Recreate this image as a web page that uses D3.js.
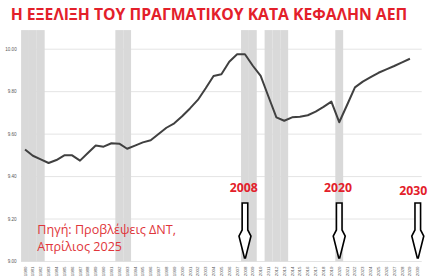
<!DOCTYPE html>
<html>
<head>
<meta charset="utf-8">
<script src="https://cdn.jsdelivr.net/npm/d3@7"></script>
<style>
  body { margin: 0; background: #fff; }
  svg { display: block; }
</style>
</head>
<body>
<div id="chart"></div>
<script>
// years on the category axis
const years = d3.range(1980, 2031);

// log real GDP per capita, 1980-2029 (IMF forecasts after 2024)
const gdpYears = d3.range(1980, 2030);
const gdpValues = [
  9.528, 9.498, 9.481, 9.464, 9.478, 9.500, 9.500, 9.475, 9.511, 9.546,
  9.541, 9.557, 9.555, 9.531, 9.546, 9.561, 9.571, 9.601, 9.630, 9.651,
  9.684, 9.721, 9.761, 9.816, 9.874, 9.882, 9.941, 9.976, 9.976, 9.922,
  9.874, 9.776, 9.679, 9.663, 9.679, 9.682, 9.689, 9.706, 9.728, 9.753,
  9.656, 9.737, 9.820, 9.847, 9.868, 9.889, 9.905, 9.921, 9.938, 9.955
];

// recession years (grey bars)
const recessionYears = [1980, 1981, 1982, 1992, 1993, 2008, 2009, 2011, 2012, 2013, 2020];
const recessionTop = 10.09;

const yTicks = [9.0, 9.2, 9.4, 9.6, 9.8, 10.0];
const markerYears = [2008, 2020, 2030];

const title = "Η ΕΞΕΛΙΞΗ ΤΟΥ ΠΡΑΓΜΑΤΙΚΟΥ ΚΑΤΑ ΚΕΦΑΛΗΝ ΑΕΠ";
const sourceLines = ["Πηγή: Προβλέψεις ΔΝΤ,", "Απρίλιος 2025"];

const W = 428, H = 278;
const margin = { top: 49.2, right: 6.3, bottom: 16.5, left: 21.1 };

const svg = d3.select("#chart").append("svg")
    .attr("width", W)
    .attr("height", H);

const x = d3.scaleBand()
    .domain(years)
    .range([margin.left, W - margin.right])
    .padding(0);

const y = d3.scaleLinear()
    .domain([9, 10])
    .range([H - margin.bottom, margin.top]);

const cx = d => x(d) + x.bandwidth() / 2;

// gridlines
svg.append("g")
    .selectAll("line")
    .data(yTicks)
    .join("line")
    .attr("x1", x.range()[0])
    .attr("x2", x.range()[1])
    .attr("y1", d => y(d))
    .attr("y2", d => y(d))
    .attr("stroke", "#e4e4e4")
    .attr("stroke-width", 1);

// recession bars
svg.append("g")
    .selectAll("rect")
    .data(recessionYears)
    .join("rect")
    .attr("x", d => x(d))
    .attr("y", y(recessionTop))
    .attr("width", x.bandwidth())
    .attr("height", y(9) - y(recessionTop))
    .attr("fill", "#d9d9d9");

// y tick labels
svg.append("g")
    .selectAll("text")
    .data(yTicks)
    .join("text")
    .attr("x", 16.7)
    .attr("y", d => y(d))
    .attr("dy", "0.35em")
    .attr("text-anchor", "end")
    .attr("font-family", "Liberation Sans, sans-serif")
    .attr("font-size", 4.6)
    .attr("fill", "#595959")
    .text(d => d3.format(".2f")(d));

// x tick labels (rotated)
svg.append("g")
    .selectAll("text")
    .data(years)
    .join("text")
    .attr("transform", d => `translate(${cx(d)},${y(9) + 5})rotate(-90)`)
    .attr("dy", "0.35em")
    .attr("text-anchor", "end")
    .attr("font-family", "Liberation Sans, sans-serif")
    .attr("font-size", 4.4)
    .attr("fill", "#595959")
    .text(d => d);

// the line
const line = d3.line()
    .x((d, i) => cx(gdpYears[i]))
    .y(d => y(d));

svg.append("path")
    .datum(gdpValues)
    .attr("d", line)
    .attr("fill", "none")
    .attr("stroke", "#404040")
    .attr("stroke-width", 2)
    .attr("stroke-linejoin", "round");

// title
svg.append("text")
    .attr("x", 10.7)
    .attr("y", 19.5)
    .attr("font-family", "Open Sans, sans-serif")
    .attr("font-weight", "bold")
    .attr("font-size", 16.5)
    .attr("textLength", 396.5)
    .attr("lengthAdjust", "spacingAndGlyphs")
    .attr("fill", "#e3202a")
    .text(title);

// source note
svg.append("g")
    .selectAll("text")
    .data(sourceLines)
    .join("text")
    .attr("x", 37.3)
    .attr("y", (d, i) => 234 + i * 17)
    .attr("font-family", "Open Sans, sans-serif")
    .attr("font-size", 12.6)
    .attr("fill", "#e0353a")
    .text(d => d);

// year markers with hollow arrows
const arrowPath = function(c) {
    const top = 203, neck = 230, shoulder = 236, tip = 258;
    return `M${c - 2.8},${top} L${c + 2.8},${top} L${c + 2.8},${neck} ` +
        `L${c + 6},${shoulder} L${c + 0.5},${tip} L${c - 0.5},${tip} ` +
        `L${c - 6},${shoulder} L${c - 2.8},${neck} Z`;
};

const markers = svg.append("g")
    .selectAll("g")
    .data(markerYears)
    .join("g");

markers.append("path")
    .attr("d", d => arrowPath(cx(d)))
    .attr("fill", "#fff")
    .attr("stroke", "#000")
    .attr("stroke-width", 1.6)
    .attr("stroke-linejoin", "miter");

markers.append("text")
    .attr("x", d => cx(d) - (d === 2030 ? 4.5 : 1.2))
    .attr("y", d => d === 2030 ? 194.5 : 192.3)
    .attr("text-anchor", "middle")
    .attr("font-family", "Open Sans, sans-serif")
    .attr("font-weight", "bold")
    .attr("font-size", 12.5)
    .attr("textLength", 28)
    .attr("lengthAdjust", "spacingAndGlyphs")
    .attr("fill", "#e3202a")
    .text(d => d);
</script>
</body>
</html>
